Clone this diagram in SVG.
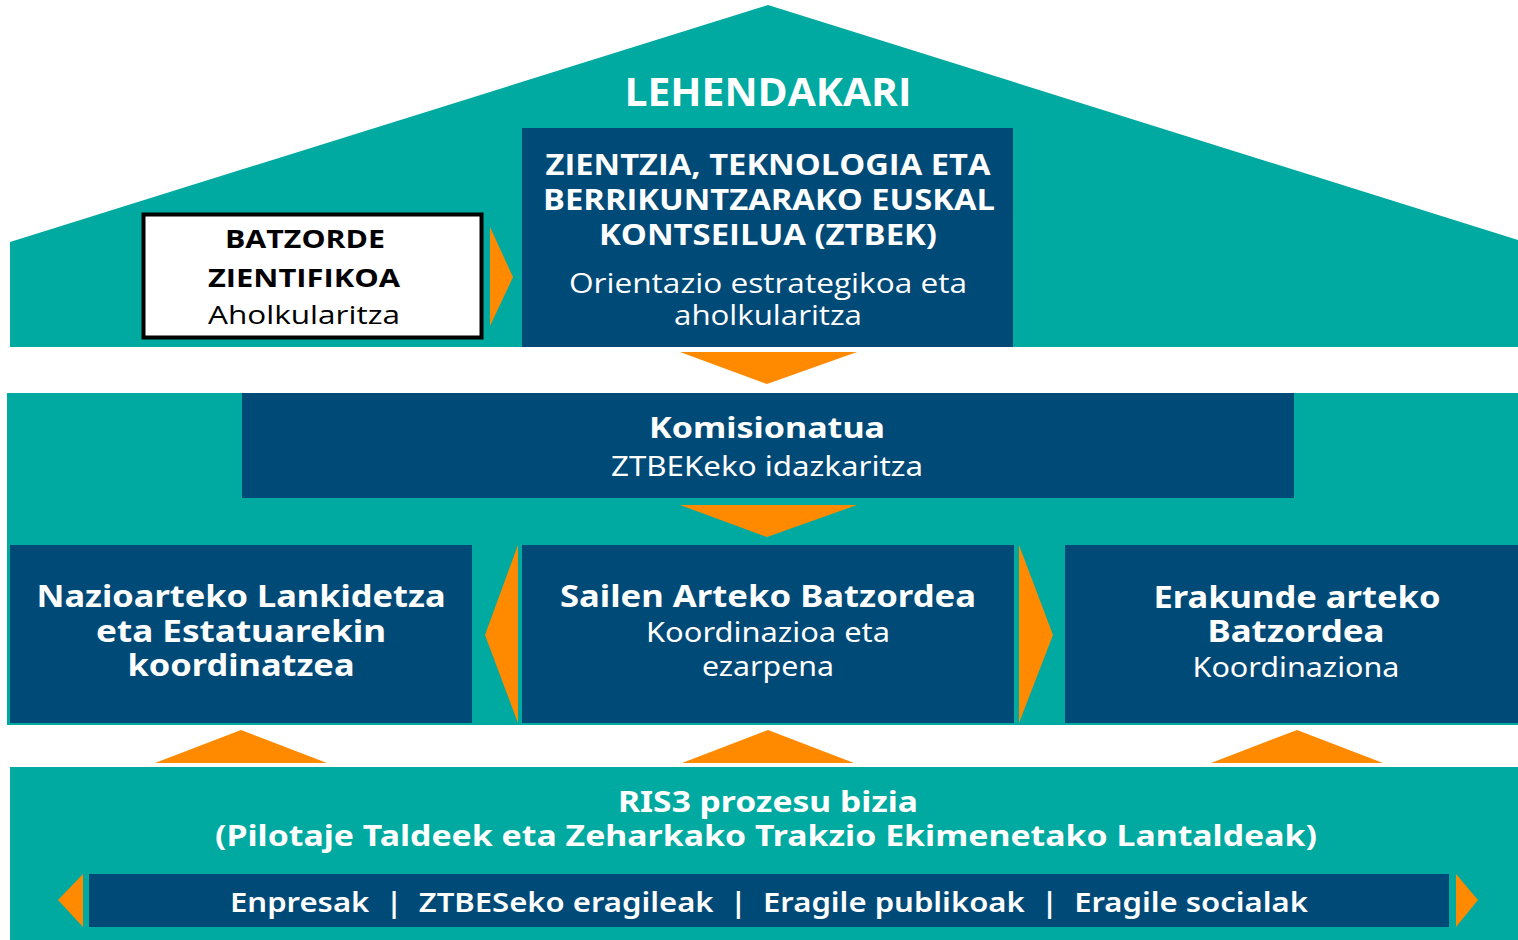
<svg xmlns="http://www.w3.org/2000/svg" width="1518" height="940" viewBox="0 0 1518 940">
<style>
.teal{fill:#00AAA0}
.navy{fill:#004A78}
.org{fill:#FF8A00}
text{font-family:"Noto Sans","Open Sans","Liberation Sans",sans-serif;text-anchor:middle;fill:#ffffff}
.geo{font-family:"Open Sans","Noto Sans","Liberation Sans",sans-serif}
.b{font-weight:700}
.r{font-weight:400}
.m{font-weight:600}
.blk{fill:#000000}
</style>
<rect width="1518" height="940" fill="#ffffff"/>
<g id="bands">
<polygon class="teal" points="10,242 768,5 1518,240 1518,347 10,347"/>
<rect class="teal" x="7" y="393" width="1511" height="332"/>
<rect class="teal" x="10" y="767" width="1508" height="173"/>
</g>
<g id="lehendakari">
<text class="geo b" x="768" y="106" font-size="40" textLength="287" lengthAdjust="spacingAndGlyphs">LEHENDAKARI</text>
</g>
<g id="ztbek">
<rect class="navy" x="522" y="128" width="491" height="219"/>
<text class="geo b" x="768" y="175" font-size="28" textLength="445" lengthAdjust="spacingAndGlyphs">ZIENTZIA, TEKNOLOGIA ETA</text>
<text class="geo b" x="769" y="210" font-size="28" textLength="452" lengthAdjust="spacingAndGlyphs">BERRIKUNTZARAKO EUSKAL</text>
<text class="geo b" x="768" y="245" font-size="28" textLength="338" lengthAdjust="spacingAndGlyphs">KONTSEILUA (ZTBEK)</text>
<text class="geo r" x="768" y="293" font-size="27" textLength="398" lengthAdjust="spacingAndGlyphs">Orientazio estrategikoa eta</text>
<text class="geo r" x="768" y="325" font-size="27" textLength="188" lengthAdjust="spacingAndGlyphs">aholkularitza</text>
</g>
<g id="batzorde">
<rect x="143.5" y="214.5" width="338" height="123" fill="#ffffff" stroke="#000000" stroke-width="4"/>
<text class="geo b blk" x="305" y="248" font-size="25" textLength="160" lengthAdjust="spacingAndGlyphs">BATZORDE</text>
<text class="geo b blk" x="304" y="287" font-size="25" textLength="192" lengthAdjust="spacingAndGlyphs">ZIENTIFIKOA</text>
<text class="geo r blk" x="304" y="324" font-size="26" textLength="192" lengthAdjust="spacingAndGlyphs">Aholkularitza</text>
</g>
<g id="komisionatua">
<rect class="navy" x="242" y="393" width="1052" height="105"/>
<text class="b" x="767" y="438" font-size="29" textLength="236" lengthAdjust="spacingAndGlyphs">Komisionatua</text>
<text class="r" x="767" y="476" font-size="27" textLength="312" lengthAdjust="spacingAndGlyphs">ZTBEKeko idazkaritza</text>
</g>
<g id="nazioarteko">
<rect class="navy" x="10" y="545" width="462" height="178"/>
<text class="b" x="241" y="607" font-size="30" textLength="409" lengthAdjust="spacingAndGlyphs">Nazioarteko Lankidetza</text>
<text class="b" x="241" y="642" font-size="30" textLength="290" lengthAdjust="spacingAndGlyphs">eta Estatuarekin</text>
<text class="b" x="241" y="676" font-size="30" textLength="227" lengthAdjust="spacingAndGlyphs">koordinatzea</text>
</g>
<g id="sailen">
<rect class="navy" x="522" y="545" width="492" height="178"/>
<text class="b" x="768" y="607" font-size="30" textLength="416" lengthAdjust="spacingAndGlyphs">Sailen Arteko Batzordea</text>
<text class="r" x="768" y="642" font-size="27" textLength="244" lengthAdjust="spacingAndGlyphs">Koordinazioa eta</text>
<text class="r" x="768" y="676" font-size="27" textLength="132" lengthAdjust="spacingAndGlyphs">ezarpena</text>
</g>
<g id="erakunde">
<rect class="navy" x="1065" y="545" width="453" height="178"/>
<text class="b" x="1297" y="608" font-size="30" textLength="287" lengthAdjust="spacingAndGlyphs">Erakunde arteko</text>
<text class="b" x="1296" y="642" font-size="30" textLength="177" lengthAdjust="spacingAndGlyphs">Batzordea</text>
<text class="r" x="1296" y="677" font-size="27" textLength="207" lengthAdjust="spacingAndGlyphs">Koordinaziona</text>
</g>
<g id="ris3">
<text class="b" x="768" y="812" font-size="28" textLength="300" lengthAdjust="spacingAndGlyphs">RIS3 prozesu bizia</text>
<text class="b" x="766" y="846" font-size="28" textLength="1102" lengthAdjust="spacingAndGlyphs">(Pilotaje Taldeek eta Zeharkako Trakzio Ekimenetako Lantaldeak)</text>
</g>
<g id="eragileak">
<rect class="navy" x="89" y="874" width="1360" height="53"/>
<text class="m" x="769" y="912" font-size="27" textLength="1078" lengthAdjust="spacingAndGlyphs" xml:space="preserve">Enpresak  |  ZTBESeko eragileak  |  Eragile publikoak  |  Eragile socialak</text>
</g>
<g id="connectors">
<polygon class="org" points="490,227 513,277 490,326"/>
<polygon class="org" points="680,352 857,352 767,384"/>
<polygon class="org" points="680,505 857,505 767,537"/>
<polygon class="org" points="518,545 485,635 518,723"/>
<polygon class="org" points="1019,545 1053,635 1019,723"/>
<polygon class="org" points="155,763 241,730 327,763"/>
<polygon class="org" points="682,763 768,730 854,763"/>
<polygon class="org" points="1211,763 1297,730 1383,763"/>
<polygon class="org" points="83,874 58,900 83,927"/>
<polygon class="org" points="1456,874 1478,900 1456,927"/>
</g>
</svg>
